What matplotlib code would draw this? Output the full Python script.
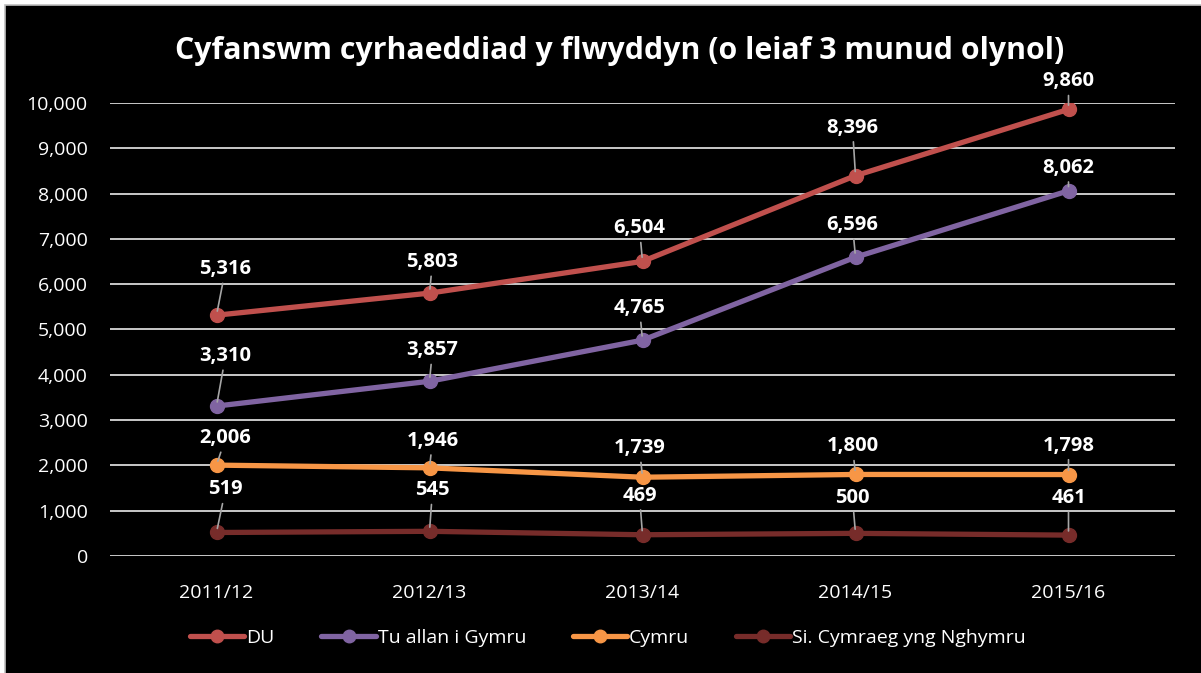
import matplotlib.pyplot as plt
from matplotlib.patches import Rectangle
from matplotlib.ticker import FuncFormatter, MultipleLocator

plt.rcParams['font.family'] = ['Open Sans', 'DejaVu Sans']

years = ['2011/12', '2012/13', '2013/14', '2014/15', '2015/16']
du = [5316, 5803, 6504, 8396, 9860]
tu_allan = [3310, 3857, 4765, 6596, 8062]
cymru = [2006, 1946, 1739, 1800, 1798]
si_cymraeg = [519, 545, 469, 500, 461]

names = ['DU', 'Tu allan i Gymru', 'Cymru', 'Si. Cymraeg yng Nghymru']
colors = ['#C0504D', '#8064A2', '#F79646', '#772C2A']
series = [du, tu_allan, cymru, si_cymraeg]

# label offsets in pixels (dx, dy) for each series / point
offsets = [
    [(9, 46), (3, 31), (-3, 33), (-3, 48), (0, 28)],
    [(9, 50), (3, 31), (-3, 32), (-3, 32), (0, 23)],
    [(9, 27), (3, 27), (-3, 29), (-3, 28), (0, 29)],
    [(9, 43), (3, 41), (-3, 39), (-3, 35), (0, 37)],
]

W, H = 1201, 673
fig = plt.figure(figsize=(W / 100, H / 100), dpi=100, facecolor='white')
fig.patches.append(Rectangle((5 / W, -0.01), 1.01 - 5 / W, 1.01 - 5 / H, transform=fig.transFigure,
                             facecolor='black', edgecolor='#BFBFBF', linewidth=1.2, zorder=-10))

ax = fig.add_axes([110 / W, (H - 556) / H, (1175 - 110) / W, (556 - 103) / H])
ax.set_facecolor('black')
x = list(range(len(years)))

for vals, name, col, offs in zip(series, names, colors, offsets):
    ax.plot(x, vals, color=col, lw=3.8, marker='o', ms=10, label=name, zorder=3,
            solid_capstyle='round')
    for xi, v, (dx, dy) in zip(x, vals, offs):
        ax.annotate(f'{v:,}', (xi, v), xytext=(dx * 0.72, dy * 0.72), textcoords='offset points',
                    ha='center', va='center', color='white', fontsize=14.5, fontweight='bold',
                    arrowprops=dict(arrowstyle='-', color='#A6A6A6', lw=1.2,
                                    shrinkA=1, shrinkB=3),
                    zorder=5)

ax.set_xlim(-0.5, len(years) - 0.5)
ax.set_ylim(0, 10000)
ax.yaxis.set_major_locator(MultipleLocator(1000))
ax.yaxis.set_major_formatter(FuncFormatter(lambda v, p: f'{int(v):,}'))
ax.set_xticks(x)
ax.set_xticklabels(years)
ax.grid(axis='y', color='#D9D9D9', lw=1.3)
ax.set_axisbelow(True)
for s in ax.spines.values():
    s.set_visible(False)
ax.tick_params(colors='white', labelsize=14, length=0)
ax.tick_params(axis='y', pad=16)
ax.tick_params(axis='x', pad=20)
for lab in ax.get_xticklabels() + ax.get_yticklabels():
    lab.set_color('white')

fig.text(620 / W, 1 - 51 / H, 'Cyfanswm cyrhaeddiad y flwyddyn (o leiaf 3 munud olynol)',
         ha='center', va='center', color='white', fontsize=21.8, fontweight='bold')

leg = fig.legend(loc='center', bbox_to_anchor=(608 / W, 1 - 638 / H), ncol=4, frameon=False,
                 fontsize=14, handlelength=2.8, columnspacing=2.4, handletextpad=0.1,
                 labelcolor='white')
for h in leg.legend_handles:
    h.set_markersize(9)

fig.savefig('out.png', dpi=100, facecolor=fig.get_facecolor())
